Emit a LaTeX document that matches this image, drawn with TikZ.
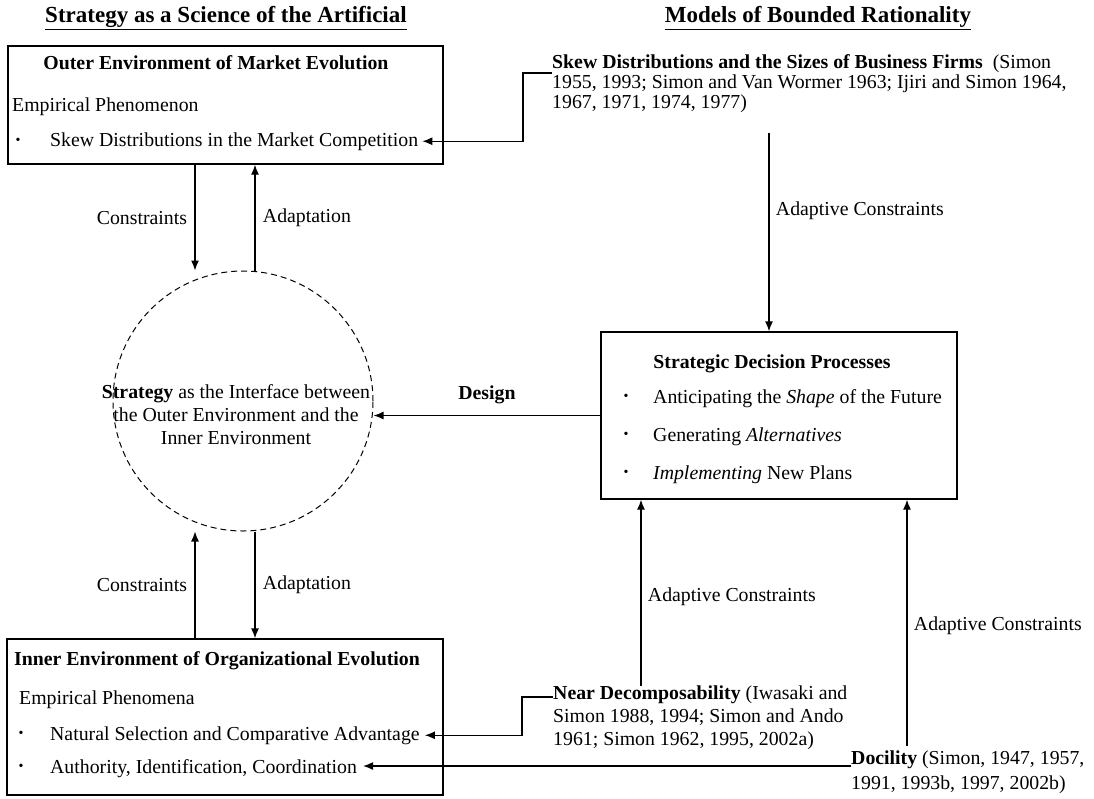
\documentclass[tikz,border=0pt]{standalone}
\usepackage{fontspec}
\setmainfont{Liberation Serif}
\usetikzlibrary{positioning,arrows.meta}
\newcommand{\smallbul}{{\fontsize{14}{14}\selectfont\textbullet}}

\begin{document}
\begin{tikzpicture}[x=1pt,y=-1pt,>={Latex[length=10pt,width=8pt]},font=\fontsize{19.8}{23}\selectfont,box/.style={draw, rectangle, line width=1.3pt, inner sep=0pt},txt/.style={inner sep=0pt},head/.style={inner sep=0pt, font=\fontsize{19.8}{23}\selectfont\bfseries},ttl/.style={inner sep=0pt, font=\fontsize{23}{27}\selectfont\bfseries},ref/.style={inner sep=0pt, align=left, anchor=north west},link/.style={->, line width=1.3pt}]
  \useasboundingbox (0,0) rectangle (1094,798);
  \node[ttl] (lttl) at (226,18) {\underline{Strategy as a Science of the Artificial}};
  \node[ttl] (rttl) at (818,18) {\underline{Models of Bounded Rationality}};

  \node[box, minimum width=435pt, minimum height=118pt] (outer) at (225.5,105) {};
  \node[head, anchor=base] (outh) at (216,69) {Outer Environment of Market Evolution};
  \node[txt, anchor=base west] (oute) at (12,111) {Empirical Phenomenon};
  \node[txt] (ob1) at (18,141) {\smallbul};
  \node[txt, anchor=base west] (sdm) at (50,146) {Skew Distributions in the Market Competition};

  \node[box, minimum width=356pt, minimum height=167pt] (sdp) at (779,415.5) {};
  \node[head, anchor=base] (sdph) at (772,368) {Strategic Decision Processes};
  \node[txt] (sb1) at (626,397) {\smallbul};
  \node[txt] (sb2) at (626,435) {\smallbul};
  \node[txt] (sb3) at (626,473) {\smallbul};
  \node[txt, anchor=base west] (ant) at (653,403) {Anticipating the \textit{Shape} of the Future};
  \node[txt, anchor=base west] (gen) at (653,441) {Generating \textit{Alternatives}};
  \node[txt, anchor=base west] (imp) at (653,479) {\textit{Implementing} New Plans};

  \node[box, minimum width=436pt, minimum height=156pt] (inner) at (225,717) {};
  \node[head, anchor=base] (innh) at (217,665) {Inner Environment of Organizational Evolution};
  \node[txt, anchor=base west] (inne) at (19,704) {Empirical Phenomena};
  \node[txt] (ib1) at (21,734) {\smallbul};
  \node[txt] (ib2) at (21,767) {\smallbul};
  \node[txt, anchor=base west] (nsca) at (50,740) {Natural Selection and Comparative Advantage};
  \node[txt, anchor=base west] (auth) at (50,773) {Authority, Identification, Coordination};

  \node[draw, circle, dashed, dash pattern=on 6pt off 4pt, line width=1pt, minimum size=260pt, inner sep=0pt] (strat) at (243,401) {};
  \node[txt, align=center] (stxt) at (236,415) {\textbf{Strategy} as the Interface between\\the Outer Environment and the\\Inner Environment};

  \node[ref, font=\fontsize{19.8}{20}\selectfont] (skew) at (552,54) {\textbf{Skew Distributions and the Sizes of Business Firms}\ \ (Simon\\1955, 1993; Simon and Van Wormer 1963; Ijiri and Simon 1964,\\1967, 1971, 1974, 1977)};
  \node[ref] (nd) at (553,686) {\textbf{Near Decomposability} (Iwasaki and\\Simon 1988, 1994; Simon and Ando\\1961; Simon 1962, 1995, 2002a)};
  \node[ref, font=\fontsize{19.8}{25}\selectfont] (doc) at (851,751) {\textbf{Docility} (Simon, 1947, 1957,\\1991, 1993b, 1997, 2002b)};

  \coordinate (lx) at (195,0);
  \coordinate (rx) at (255,0);
  \coordinate (skx) at (769,0);
  \coordinate (ndx) at (641,0);
  \coordinate (dcx) at (907,0);

  \draw[link] (outer.south -| lx) -- (strat.north -| lx) node[midway, left=4pt]{Constraints};
  \draw[link] (strat.north -| rx) -- (outer.south -| rx) node[midway, right=4pt]{Adaptation};
  \draw[link] (inner.north -| lx) -- (strat.south -| lx) node[midway, left=4pt]{Constraints};
  \draw[link] (strat.south -| rx) -- (inner.north -| rx) node[midway, right=4pt]{Adaptation};
  \draw[link] (sdp.west) -- (sdp.west -| strat.east) node[midway, above=8pt, font=\fontsize{19.8}{23}\selectfont\bfseries]{Design};

  \draw[link, shorten <=20pt] (skew.south -| skx) -- (sdp.north -| skx) node[pos=0.45, right=3pt]{Adaptive Constraints};
  \draw[link] (nd.north -| ndx) -- (sdp.south -| ndx) node[pos=0.48, right=3pt]{Adaptive Constraints};
  \draw[link, shorten <=5pt] (doc.north -| dcx) -- (sdp.south -| dcx) node[pos=0.5, right=3pt]{Adaptive Constraints};

  \draw[link, shorten >=4pt] ([yshift=-19pt]skew.north west) -- ++(-29,0) |- (sdm.east);
  \draw[link, shorten >=5pt] ([yshift=-11pt]nd.north west) -- ++(-31,0) |- (nsca.east);
  \draw[link, shorten >=6pt] ([yshift=-15pt]doc.north west) coordinate (dl) -- (dl -| auth.east);
\end{tikzpicture}
\end{document}
